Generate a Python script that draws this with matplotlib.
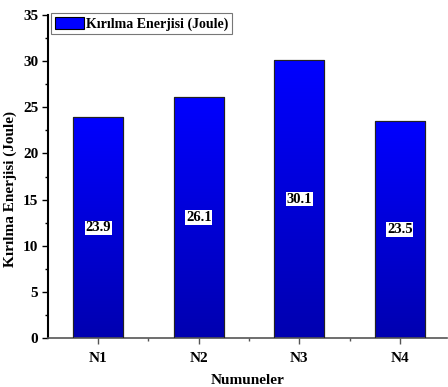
import matplotlib
matplotlib.use("Agg")
import matplotlib.pyplot as plt
import numpy as np
from matplotlib.ticker import MultipleLocator, FixedLocator

categories = ["N1", "N2", "N3", "N4"]
values = [23.9, 26.1, 30.1, 23.5]
value_labels = ["23.9", "26.1", "30.1", "23.5"]
legend_label = "Kırılma Enerjisi (Joule)"
xlabel = "Numuneler"
ylabel = "Kırılma Enerjisi (Joule)"

plt.rcParams['font.family'] = ['Liberation Serif', 'DejaVu Serif']
plt.rcParams['font.weight'] = 'bold'

fig = plt.figure(figsize=(4.48, 3.87), dpi=100)
ax = fig.add_axes([0.107, 0.1266, 0.891, 0.8345])

x = np.arange(1, len(categories) + 1)
bars = ax.bar(x, values, width=0.5, color='#0000ff', edgecolor='black', linewidth=0.8,
              label=legend_label, zorder=2)

grad = np.linspace(0, 1, 256).reshape(-1, 1)
cmap = matplotlib.colors.LinearSegmentedColormap.from_list('g', ['#0000b0', '#0000ff'])
for b in bars:
    bx, by = b.get_x(), b.get_y()
    w, h = b.get_width(), b.get_height()
    im = ax.imshow(grad, extent=[bx, bx + w, by, by + h], origin='lower', cmap=cmap,
                   aspect='auto', zorder=2.5)
    im.set_clip_path(b)
    ax.add_patch(plt.Rectangle((bx, by), w, h, fill=False, edgecolor='#222222', linewidth=0.8, zorder=3))

for xi, v, lab in zip(x, values, value_labels):
    ax.text(xi, v / 2, lab, ha='center', va='center', fontsize=10.5, fontweight='bold',
            bbox=dict(facecolor='white', edgecolor='none', pad=0.5), zorder=4)

ax.set_xlim(0.5, 4.47)
ax.set_ylim(0, 35)
ax.set_xticks(x)
ax.set_xticklabels(categories, fontsize=11, fontweight='bold')
ax.xaxis.set_minor_locator(FixedLocator([1.5, 2.5, 3.5]))
ax.yaxis.set_major_locator(MultipleLocator(5))
ax.yaxis.set_minor_locator(MultipleLocator(2.5))
for lbl in ax.get_yticklabels():
    lbl.set_fontsize(11)
    lbl.set_fontweight('bold')
ax.tick_params(axis='both', which='major', direction='out', length=4, width=1)
ax.tick_params(axis='both', which='minor', direction='out', length=2, width=1)
ax.tick_params(axis='x', which='both', color='#555555')
ax.tick_params(axis='x', which='major', pad=6)
ax.tick_params(axis='y', which='major', pad=3)

ax.spines['top'].set_visible(False)
ax.spines['right'].set_visible(False)
ax.spines['left'].set_linewidth(1.5)
ax.spines['bottom'].set_linewidth(1.2)
ax.spines['bottom'].set_color('#555555')

ax.set_xlabel(xlabel, fontsize=11, fontweight='bold')
ax.xaxis.set_label_coords(0.5, -0.112)
ax.set_ylabel(ylabel, fontsize=11, fontweight='bold')
ax.yaxis.set_label_coords(-0.078, 0.46)

leg = ax.legend(loc='upper left', bbox_to_anchor=(0.008, 1.006), fontsize=10,
                frameon=True, fancybox=False, edgecolor='#555555', handlelength=2.1,
                handleheight=1.0, borderpad=0.25, handletextpad=0.15, borderaxespad=0.0)
leg.get_frame().set_linewidth(0.8)
for t in leg.get_texts():
    t.set_fontweight('bold')

fig.savefig("out.png", dpi=100)
